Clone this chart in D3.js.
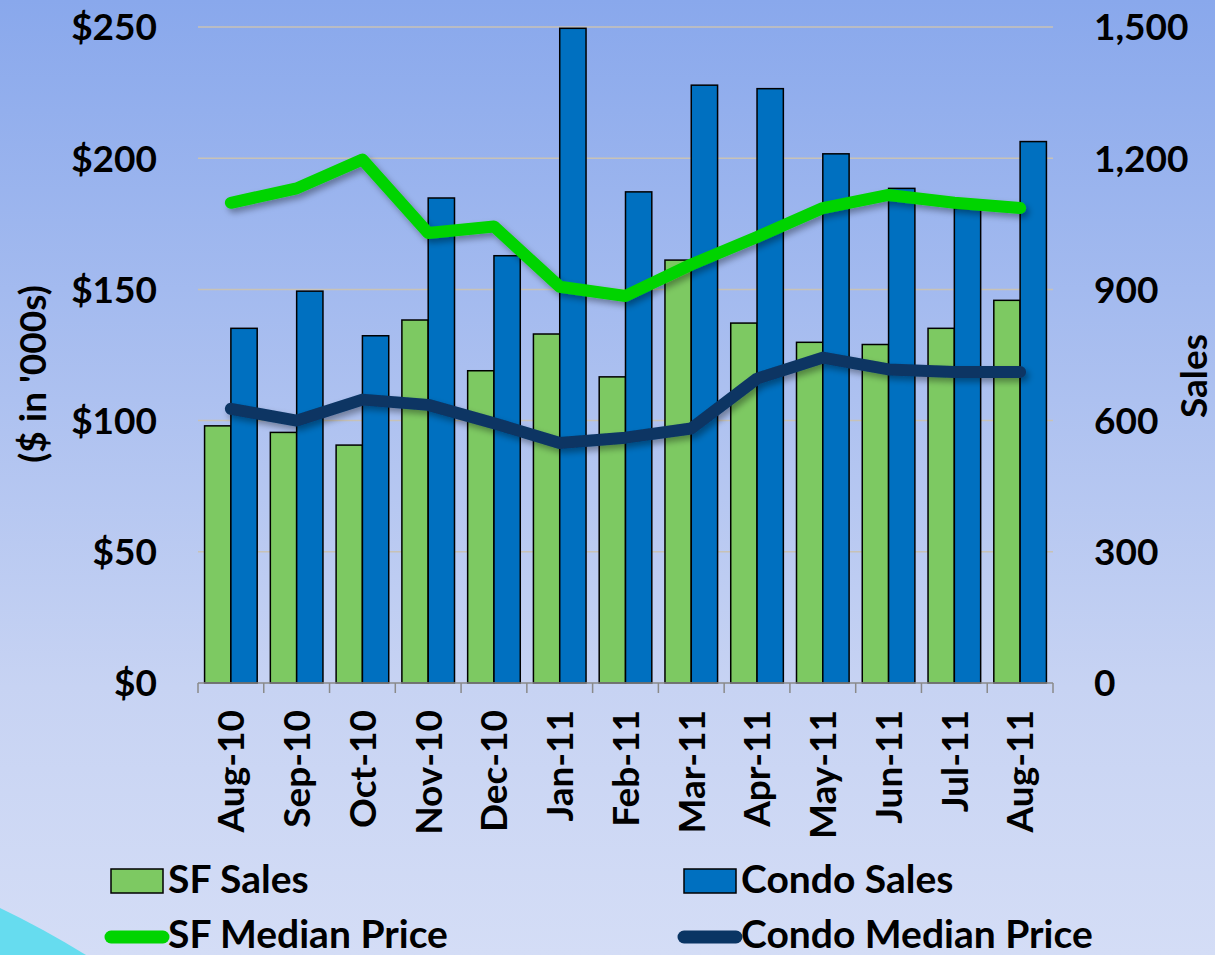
<!DOCTYPE html>
<html>
<head>
<meta charset="utf-8">
<script src="https://cdn.jsdelivr.net/npm/d3@7"></script>
<style>
  html, body { margin: 0; padding: 0; background: #c8d4f2; }
  svg text { font-family: Lato, "Open Sans", sans-serif; font-weight: bold; fill: #000; }
</style>
</head>
<body>
<div id="chart"></div>
<script>
var months = ["Aug-10","Sep-10","Oct-10","Nov-10","Dec-10","Jan-11","Feb-11","Mar-11","Apr-11","May-11","Jun-11","Jul-11","Aug-11"];
var sfSales = [588, 573, 544, 830, 714, 798, 700, 967, 823, 779, 774, 811, 875];
var condoSales = [811, 896, 794, 1109, 977, 1497, 1123, 1367, 1359, 1210, 1131, 1085, 1238];
var sfPrice = [183, 188.5, 199.5, 171.5, 174, 151, 147.5, 159.5, 170, 181, 186, 183, 181];
var condoPrice = [104.5, 100, 108, 106, 99, 91.5, 93.5, 97, 116, 124, 119.5, 118.5, 118.5];
var priceTicks = [0, 50, 100, 150, 200, 250];
var salesTicks = [0, 300, 600, 900, 1200, 1500];

(function(){
  var width = 1215, height = 955;
  var plotLeft = 198, plotRight = 1053, plotTop = 27, plotBottom = 683;

  var svg = d3.select("#chart").append("svg")
    .attr("width", width)
    .attr("height", height);

  var defs = svg.append("defs");
  var grad = defs.append("linearGradient")
    .attr("id", "bg").attr("x1", 0).attr("y1", 0).attr("x2", 0).attr("y2", 1);
  grad.append("stop").attr("offset", "0%").attr("stop-color", "#89a8ec");
  grad.append("stop").attr("offset", "72%").attr("stop-color", "#c7d3f3");
  grad.append("stop").attr("offset", "100%").attr("stop-color", "#d4ddf6");

  var shadow = defs.append("filter").attr("id", "shadow")
    .attr("x", "-5%").attr("y", "-20%").attr("width", "110%").attr("height", "140%");
  shadow.append("feDropShadow")
    .attr("dx", 3).attr("dy", 4).attr("stdDeviation", 3)
    .attr("flood-color", "#000").attr("flood-opacity", 0.35);

  svg.append("rect").attr("width", width).attr("height", height).attr("fill", "url(#bg)");

  // corner swoosh
  svg.append("path")
    .attr("d", "M0,908 Q42,928 86,955 L0,955 Z")
    .attr("fill", "#66dcef");

  var x = d3.scaleBand().domain(months).range([plotLeft, plotRight])
    .paddingInner(0.2).paddingOuter(0.1);
  var xSub = d3.scaleBand().domain(["sf", "condo"]).range([0, x.bandwidth()]);
  var edge = d3.scaleLinear().domain([0, months.length]).range([plotLeft, plotRight]);
  var yPrice = d3.scaleLinear().domain([0, 250]).range([plotBottom, plotTop]);
  var ySales = d3.scaleLinear().domain([0, 1500]).range([plotBottom, plotTop]);

  // gridlines
  svg.append("g").selectAll("line")
    .data(priceTicks.slice(1))
    .enter().append("line")
    .attr("x1", plotLeft).attr("x2", plotRight)
    .attr("y1", function(d){ return yPrice(d); })
    .attr("y2", function(d){ return yPrice(d); })
    .attr("stroke", "#c8c2b6").attr("stroke-width", 1.5);

  // bars
  var rows = months.map(function(m, i){
    return { month: m, sf: sfSales[i], condo: condoSales[i] };
  });
  var groups = svg.append("g").selectAll("g")
    .data(rows)
    .enter().append("g")
    .attr("transform", function(d){ return "translate(" + x(d.month) + ",0)"; });

  groups.append("rect")
    .attr("x", xSub("sf"))
    .attr("y", function(d){ return ySales(d.sf); })
    .attr("width", xSub.bandwidth())
    .attr("height", function(d){ return plotBottom - ySales(d.sf); })
    .attr("fill", "#7dc962").attr("stroke", "#000").attr("stroke-width", 1.5);

  groups.append("rect")
    .attr("x", xSub("condo"))
    .attr("y", function(d){ return ySales(d.condo); })
    .attr("width", xSub.bandwidth())
    .attr("height", function(d){ return plotBottom - ySales(d.condo); })
    .attr("fill", "#0070c0").attr("stroke", "#000").attr("stroke-width", 1.5);

  // bottom axis
  var xAxis = svg.append("g");
  xAxis.append("line")
    .attr("x1", plotLeft).attr("x2", plotRight).attr("y1", plotBottom).attr("y2", plotBottom)
    .attr("stroke", "#8a8a8a").attr("stroke-width", 1.5);
  xAxis.selectAll(".tick")
    .data(d3.range(months.length + 1))
    .enter().append("line")
    .attr("class", "tick")
    .attr("x1", function(d){ return edge(d); })
    .attr("x2", function(d){ return edge(d); })
    .attr("y1", plotBottom).attr("y2", plotBottom + 10)
    .attr("stroke", "#8a8a8a").attr("stroke-width", 1.5);

  xAxis.selectAll("text")
    .data(months)
    .enter().append("text")
    .attr("transform", function(d){
      return "translate(" + (x(d) + x.bandwidth() / 2) + "," + 710 + ") rotate(-90)";
    })
    .attr("text-anchor", "end")
    .attr("dy", "0.36em")
    .style("font-size", "37px")
    .text(function(d){ return d; });

  // price lines
  var line = d3.line()
    .x(function(d, i){ return x(months[i]) + x.bandwidth() / 2; })
    .y(function(d){ return yPrice(d); });

  svg.append("path")
    .datum(sfPrice)
    .attr("d", line)
    .attr("fill", "none").attr("stroke", "#00d400")
    .attr("stroke-width", 12).attr("stroke-linecap", "round").attr("stroke-linejoin", "round")
    .attr("filter", "url(#shadow)");

  svg.append("path")
    .datum(condoPrice)
    .attr("d", line)
    .attr("fill", "none").attr("stroke", "#0a3564")
    .attr("stroke-width", 12).attr("stroke-linecap", "round").attr("stroke-linejoin", "round")
    .attr("filter", "url(#shadow)");

  // left axis
  svg.append("g").selectAll("text")
    .data(priceTicks)
    .enter().append("text")
    .attr("x", 157)
    .attr("y", function(d){ return yPrice(d); })
    .attr("dy", "0.36em")
    .attr("text-anchor", "end")
    .style("font-size", "37px")
    .text(function(d){ return "$" + d; });

  svg.append("text")
    .attr("transform", "translate(46,374) rotate(-90)")
    .attr("text-anchor", "middle")
    .style("font-size", "37px")
    .text("($ in '000s)");

  // right axis
  var fmtSales = d3.format(",");
  svg.append("g").selectAll("text")
    .data(salesTicks)
    .enter().append("text")
    .attr("x", 1094)
    .attr("y", function(d){ return ySales(d); })
    .attr("dy", "0.36em")
    .attr("text-anchor", "start")
    .style("font-size", "37px")
    .text(fmtSales);

  svg.append("text")
    .attr("transform", "translate(1207,376) rotate(-90)")
    .attr("text-anchor", "middle")
    .style("font-size", "37px")
    .text("Sales");

  // legend
  var legendItems = [
    { name: "SF Sales", kind: "bar", color: "#7dc962", lx: 111, ly: 869 },
    { name: "Condo Sales", kind: "bar", color: "#0070c0", lx: 684, ly: 869 },
    { name: "SF Median Price", kind: "line", color: "#00d400", lx: 111, ly: 937 },
    { name: "Condo Median Price", kind: "line", color: "#0a3564", lx: 684, ly: 937 }
  ];
  var legend = svg.append("g").selectAll("g")
    .data(legendItems)
    .enter().append("g")
    .attr("transform", function(d){ return "translate(" + d.lx + "," + d.ly + ")"; });

  legend.filter(function(d){ return d.kind === "bar"; })
    .append("rect")
    .attr("width", 52).attr("height", 24)
    .attr("fill", function(d){ return d.color; })
    .attr("stroke", "#000").attr("stroke-width", 1.5);

  legend.filter(function(d){ return d.kind === "line"; })
    .append("line")
    .attr("x1", 0).attr("x2", 52)
    .attr("stroke", function(d){ return d.color; })
    .attr("stroke-width", 13).attr("stroke-linecap", "round");

  legend.append("text")
    .attr("x", 57)
    .attr("y", function(d){ return d.kind === "bar" ? 24 : 11; })
    .style("font-size", "39px")
    .text(function(d){ return d.name; });
})();
</script>
</body>
</html>
